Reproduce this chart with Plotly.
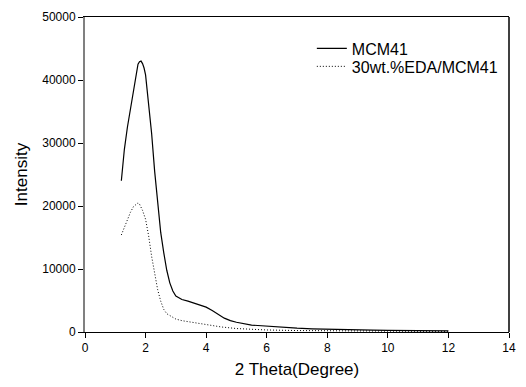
import plotly.graph_objects as go

# MCM41
x_mcm = [1.2, 1.3, 1.4, 1.5, 1.6, 1.7, 1.75, 1.8, 1.85, 1.9, 1.95, 2.0, 2.1, 2.2, 2.3, 2.4,
         2.5, 2.6, 2.7, 2.8, 2.9, 3.0, 3.2, 3.4, 3.6, 3.8, 4.0, 4.2, 4.4, 4.6, 4.8, 5.0,
         5.5, 6.0, 6.5, 7.0, 7.5, 8.0, 8.5, 9.0, 9.5, 10.0, 10.5, 11.0, 11.5, 12.0]
y_mcm = [24000, 29000, 32500, 35500, 38500, 41300, 42500, 42900, 43000, 42600, 41900, 40800,
         36500, 31500, 25500, 20000, 15800, 12600, 9800, 7800, 6500, 5700, 5150, 4900, 4600,
         4300, 3950, 3400, 2800, 2200, 1800, 1550, 1100, 900, 700, 600, 500, 420, 380, 330,
         300, 270, 240, 220, 200, 180]

# 30wt.%EDA/MCM41
x_eda = [1.2, 1.3, 1.4, 1.5, 1.6, 1.7, 1.75, 1.8, 1.9, 2.0, 2.1, 2.2, 2.3, 2.4, 2.5, 2.6,
         2.7, 2.8, 2.9, 3.0, 3.2, 3.4, 3.6, 3.8, 4.0, 4.5, 5.0, 5.5, 6.0, 7.0, 8.0, 9.0,
         10.0, 11.0, 12.0]
y_eda = [15400, 16700, 17900, 19000, 19900, 20400, 20500, 20300, 19300, 17900, 15300, 12000,
         9000, 6700, 4900, 3600, 2900, 2600, 2300, 2050, 1800, 1650, 1500, 1300, 1150, 800,
         550, 400, 320, 230, 180, 150, 130, 110, 100]

x_ticks = [0, 2, 4, 6, 8, 10, 12, 14]
y_ticks = [0, 10000, 20000, 30000, 40000, 50000]
y_tick_labels = ["0", "10000", "20000", "30000", "40000", "50000"]

FONT = "Liberation Sans, Arial, sans-serif"
LEG_FONT = dict(size=16, family=FONT, color="black")

fig = go.Figure()
fig.add_trace(go.Scatter(x=x_mcm, y=y_mcm, mode="lines", name="MCM41",
                         line=dict(color="black", width=1.2), legend="legend"))
fig.add_trace(go.Scatter(x=x_eda, y=y_eda, mode="lines", name="30wt.%EDA/MCM41",
                         line=dict(color="black", width=1, dash="1px,2px"),
                         legend="legend2"))

fig.update_layout(
    width=526, height=387,
    margin=dict(l=85, r=10, t=14, b=55),
    paper_bgcolor="white", plot_bgcolor="white",
    font=dict(family=FONT, color="black", size=12),
    showlegend=True,
    legend=dict(x=0.535, y=0.9, xanchor="left", yanchor="middle",
                bgcolor="rgba(0,0,0,0)", font=LEG_FONT),
    legend2=dict(x=0.535, y=0.843, xanchor="left", yanchor="middle",
                 bgcolor="rgba(0,0,0,0)", font=LEG_FONT),
    xaxis=dict(range=[0, 14], tickvals=x_ticks, showgrid=False, zeroline=False,
               showline=True, linecolor="black", linewidth=1, mirror=True,
               ticks="outside", ticklen=5, tickcolor="black",
               tickfont=dict(size=12),
               title=dict(text="2 Theta(Degree)", font=dict(size=17), standoff=8)),
    yaxis=dict(range=[0, 50000], tickvals=y_ticks, ticktext=y_tick_labels,
               showgrid=False, zeroline=False,
               showline=True, linecolor="#808080", linewidth=2,
               ticks="outside", ticklen=5, tickcolor="black",
               tickfont=dict(size=12),
               title=dict(text="Intensity", font=dict(size=17), standoff=10)),
)
fig.add_shape(type="line", xref="paper", yref="paper", x0=1, x1=1, y0=0, y1=1,
              line=dict(color="black", width=1.5))

fig.write_html("out.html")
